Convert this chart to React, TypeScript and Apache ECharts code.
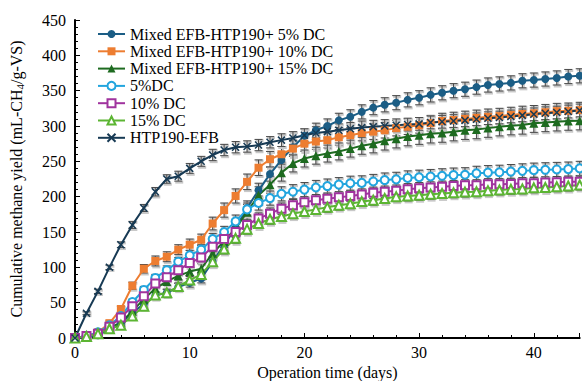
import React, { useEffect, useRef } from "react";
import * as echarts from "echarts";

const days = [0,1,2,3,4,5,6,7,8,9,10,11,12,13,14,15,16,17,18,19,20,21,22,23,24,25,26,27,28,29,30,31,32,33,34,35,36,37,38,39,40,41,42,43,44];

const seriesNames = [
  "Mixed EFB-HTP190+ 5% DC",
  "Mixed EFB-HTP190+ 10% DC",
  "Mixed EFB-HTP190+ 15% DC",
  "5%DC",
  "10% DC",
  "15% DC",
  "HTP190-EFB",
];

const mixed5 = [0,1,4,12,20,36,48,60,64,72,78,84,108,132,155,184,209,232,252,270,286,294,300,308,313,320,326,330,333,337,340,344,347,350,352,355,358,359.5,361,364,365,366.5,368,370,371];
const mixed10 = [0,3,8,21,41,74,98,109,115,125,132,139,162,181,201,221,241,253,260,268,275,278,280,284,287,290,292,294,297,299,301,304,307,308.5,310,311.5,313,314,315.5,317,318,319.5,321,321.5,322.5];
const mixed15 = [0,2,5,14,22,38,55,70,80,88,94,98,120,137,155,178,202,217,234,247,254,258,261,264,268,272,275,279,282,285,287,289,290,292,294,295,297,299,300.5,301.5,304,305,306,307,307.5];
const dc5 = [0,3,8,18,31,51,68,85,96,108,117,125,140,150,165,182,191,198,204,207,210,213,215,217,219,219.5,221.5,223.5,224.5,226.5,227.5,228.5,229.5,230.5,231,233,234,234.5,235.5,236.5,237.5,238,238.5,239,240];
const dc10 = [0,3,6,16,29,45,59,77,86,96,106,114,129,140,150,160,169,176,183,188,192,195,197,199,201,203,205.5,207,208.5,210.5,212,213,214,215,216,216,217.5,217.5,218,219,219,220,220.5,221,221];
const dc15 = [0,2,6,13,18,31,45,61,64,73,82,90,108,126,141,154,162,168,172,176,179,182,185,188,190,193,195,197.5,200,201,202,203.5,204.5,205.5,206.5,207,208.5,209.5,210.5,211,212.5,213,214,215,216.5];
const htp = [0,35,66,100,132,160,184,207,225,229,240,250,259,266,270,271,273,277,280,283,287,290,292,294,296,298,299,300,301,302,303,305,306,307,308,309.5,311,312,313.5,315,316.5,318,319,320.5,322];

// error bar half-heights
const errMixed5 = [0,1,2,3,3,4,4,5,5,5,6,6,7,8,9,10,10,10,10,10,10,10,10,10,10,10,10,10,10,10,10,10,10,10,10,10,10,10,10,10,10,10,10,10,10];
const errMixed10 = [0,1,2,3,4,5,6,7,7,7,8,8,9,10,10,11,11,11,11,11,11,11,11,11,11,11,11,11,11,11,11,11,11,11,11,11,11,11,11,11,11,11,11,11,11];
const errMixed15 = [0,1,2,3,3,4,4,5,5,6,6,7,8,9,10,11,12,12,12,12,12,12,12,12,12,12,13,13,13,13,13,13,13,13,13,13,13,13,13,13,13,13,13,13,13];
const errDc5 = [0,1,2,3,3,4,5,5,6,6,7,7,8,8,9,9,10,10,10,10,10,10,10,10,10,10,10,10,10,10,10,10,10,10,10,10,10,10,10,10,10,10,10,10,10];
const errDc10 = [0,1,2,3,3,4,4,5,5,6,6,6,7,7,8,8,8,8,8,8,8,8,8,8,8,8,8,8,8,8,8,8,8,8,8,8,8,8,8,8,8,8,8,8,8];
const errDc15 = [0,1,2,2,3,3,4,4,5,5,5,6,6,7,7,7,7,7,7,7,7,7,7,7,7,7,7,7,7,7,7,7,7,7,7,7,7,7,7,7,7,7,7,7,7];
const errHtp = [0,2,3,3,4,5,5,6,6,7,7,7,8,8,8,8,8,8,9,9,9,9,9,9,9,9,9,9,9,9,9,9,9,9,9,9,9,9,9,9,9,9,9,9,9];

const colors = ["#1b5d85", "#ed7d31", "#1e6b20", "#22a5de", "#a0339e", "#5cb533", "#173a54"];
const symbols = [
  "circle",
  "rect",
  "triangle",
  "emptyCircle",
  "emptyRect",
  "emptyTriangle",
  "path://M0,0L10,10M10,0L0,10",
];
const symbolSizes = [8, 8, 9, 8, 8, 9, 7];
const values = [mixed5, mixed10, mixed15, dc5, dc10, dc15, htp];
const errors = [errMixed5, errMixed10, errMixed15, errDc5, errDc10, errDc15, errHtp];

const FONT = "'Liberation Serif', 'Times New Roman', serif";

function errRender(params: any, api: any) {
  const x = api.value(0);
  const y = api.value(1);
  const e = api.value(2);
  if (!e) return null;
  const top = api.coord([x, y + e]);
  const bot = api.coord([x, y - e]);
  const w = 4;
  const mk = (stroke: string, lw: number, dx: number, dy: number) => [
    { type: "line", shape: { x1: top[0] + dx, y1: top[1] + dy, x2: bot[0] + dx, y2: bot[1] + dy }, style: { stroke, lineWidth: lw } },
    { type: "line", shape: { x1: top[0] - w + dx, y1: top[1] + dy, x2: top[0] + w + dx, y2: top[1] + dy }, style: { stroke, lineWidth: lw } },
    { type: "line", shape: { x1: bot[0] - w + dx, y1: bot[1] + dy, x2: bot[0] + w + dx, y2: bot[1] + dy }, style: { stroke, lineWidth: lw } },
  ];
  return { type: "group", children: [...mk("#c8c8c8", 3, 1, 1), ...mk("#4a4a4a", 1, 0, 0)] };
}

export default function App() {
  const ref = useRef<HTMLDivElement>(null);
  useEffect(() => {
    const chart = echarts.init(ref.current!, null, { renderer: "svg" });
    const errSeries = values.map((vals, i) => ({
      type: "custom",
      name: "err" + i,
      renderItem: errRender,
      data: days.map((d, k) => [d, vals[k], errors[i][k]]),
      z: 1,
      silent: true,
      clip: false,
    }));
    const lineSeries = values.map((vals, i) => ({
      type: "line",
      name: seriesNames[i],
      data: days.map((d, k) => [d, vals[k]]),
      symbol: symbols[i],
      symbolSize: symbolSizes[i],
      showAllSymbol: true,
      color: colors[i],
      lineStyle: { color: colors[i], width: 2 },
      itemStyle:
        i >= 3
          ? { color: colors[i], borderColor: colors[i], borderWidth: 1.5 }
          : { color: colors[i] },
      z: 3,
    }));
    chart.setOption({
      animation: false,
      backgroundColor: "#fff",
      textStyle: { fontFamily: FONT, color: "#000" },
      grid: { left: 75, top: 20, width: 504.7, bottom: 43, containLabel: false, outerBoundsMode: "none" },
      legend: {
        data: seriesNames,
        orient: "vertical",
        left: 92,
        top: 21,
        itemWidth: 27,
        itemHeight: 10,
        itemGap: 1.3,
        textStyle: { fontFamily: FONT, fontSize: 16, color: "#000" },
      },
      xAxis: {
        type: "value",
        min: 0,
        max: 44,
        interval: 10,
        name: "Operation time (days)",
        nameLocation: "middle",
        nameGap: 25,
        nameTextStyle: { fontFamily: FONT, fontSize: 16, color: "#000" },
        axisLine: { lineStyle: { color: "#000", width: 2 } },
        axisTick: { inside: true, length: 5, lineStyle: { color: "#000", width: 1 } },
        minorTick: { show: true, splitNumber: 5, length: 3, lineStyle: { color: "#000", width: 1 } },
        axisLabel: { fontFamily: FONT, fontSize: 16, color: "#000", margin: 6, showMaxLabel: false },
        splitLine: { show: false },
      },
      yAxis: {
        type: "value",
        min: 0,
        max: 450,
        interval: 50,
        name: "Cumulative methane yield (mL-CH{sub|4}/g-VS)",
        nameLocation: "middle",
        nameGap: 50,
        nameTextStyle: {
          fontFamily: FONT,
          fontSize: 16,
          color: "#000",
          rich: { sub: { fontFamily: FONT, fontSize: 11, color: "#000", padding: [7, 0, 0, 0] } },
        },
        axisLine: { show: true, lineStyle: { color: "#000", width: 2 } },
        axisTick: { show: true, inside: true, length: 5, lineStyle: { color: "#000", width: 1 } },
        minorTick: { show: true, splitNumber: 5, length: 3, lineStyle: { color: "#000", width: 1 } },
        axisLabel: { fontFamily: FONT, fontSize: 16, color: "#000", margin: 9 },
        splitLine: { show: false },
      },
      series: [...errSeries, ...lineSeries],
    });
    return () => chart.dispose();
  }, []);
  return <div ref={ref} style={{ position: "fixed", left: 0, top: 0, width: 582, height: 381 }} />;
}
